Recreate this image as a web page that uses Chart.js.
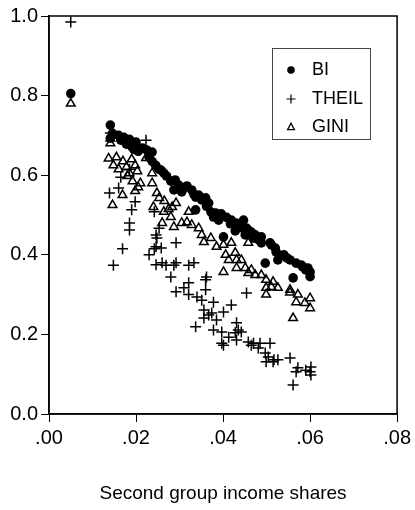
<!DOCTYPE html>
<html>
<head>
<meta charset="utf-8">
<script src="https://cdn.jsdelivr.net/npm/chart.js@4.4.1/dist/chart.umd.min.js"></script>
<style>
  html, body { margin: 0; padding: 0; background: #fff; }
  canvas { display: block; }
</style>
</head>
<body>
<canvas id="myChart" width="415" height="510"></canvas>
<script>
// ── data ──
const seriesLabels = ['BI', 'THEIL', 'GINI'];
const xTicks = [0, 0.02, 0.04, 0.06, 0.08];
const yTicks = [0, 0.2, 0.4, 0.6, 0.8, 1.0];

const biX = [0.005, 0.0141, 0.0141, 0.0146, 0.0160, 0.0165, 0.0172, 0.0178, 0.0185, 0.0190, 0.0195, 0.0200, 0.0205,
  0.0225, 0.0230, 0.0237, 0.0237, 0.0245, 0.0253, 0.0264, 0.0270, 0.0280, 0.0290, 0.0287, 0.0305, 0.0310, 0.0317,
  0.0328, 0.0337, 0.0344, 0.0351, 0.0360, 0.0362, 0.0372, 0.0378, 0.0383, 0.0390, 0.0390, 0.0401, 0.0408, 0.0419,
  0.0417, 0.0428, 0.0430, 0.0435, 0.0447, 0.0451, 0.0454, 0.0458, 0.0465, 0.0470, 0.0474, 0.0488, 0.0488, 0.0497,
  0.0508, 0.0511, 0.0520, 0.0522, 0.0526, 0.0540, 0.0554, 0.0561, 0.0568, 0.0580, 0.0583, 0.0595, 0.0600, 0.0600, 0.0337,
  0.0215, 0.0258, 0.0298, 0.0333, 0.0367, 0.0396, 0.0441, 0.0481, 0.0532, 0.0547, 0.0590];
const biY = [0.805, 0.726, 0.693, 0.705, 0.700, 0.688, 0.695, 0.678, 0.690, 0.672, 0.665, 0.683, 0.660,
  0.663, 0.645, 0.658, 0.635, 0.625, 0.615, 0.605, 0.598, 0.585, 0.588, 0.563, 0.558, 0.568, 0.573,
  0.563, 0.545, 0.550, 0.538, 0.543, 0.522, 0.508, 0.495, 0.505, 0.500, 0.487, 0.445, 0.494, 0.487,
  0.478, 0.460, 0.480, 0.475, 0.487, 0.450, 0.467, 0.462, 0.457, 0.442, 0.450, 0.445, 0.430, 0.379,
  0.430, 0.425, 0.417, 0.407, 0.387, 0.400, 0.387, 0.342, 0.379, 0.374, 0.370, 0.367, 0.357, 0.345, 0.513,
  0.668, 0.612, 0.575, 0.552, 0.530, 0.503, 0.468, 0.438, 0.398, 0.392, 0.362];

const theilX = [0.005, 0.0141, 0.0223, 0.0139, 0.0160, 0.0165, 0.0185, 0.0190, 0.0198, 0.0185, 0.0185, 0.0242,
  0.0253, 0.0246, 0.0248, 0.0246, 0.0169, 0.0148, 0.0292, 0.0230, 0.0242, 0.0258, 0.0246, 0.0260, 0.0269, 0.0287,
  0.0292, 0.0321, 0.0333, 0.0280, 0.0292, 0.0310, 0.0321, 0.0321, 0.0340, 0.0351, 0.0360, 0.0360, 0.0362, 0.0356,
  0.0356, 0.0367, 0.0337, 0.0378, 0.0374, 0.0401, 0.0419, 0.0385, 0.0454, 0.0378, 0.0397, 0.0397, 0.0401, 0.0413,
  0.0428, 0.0431, 0.0431, 0.0435, 0.0442, 0.0458, 0.0465, 0.0470, 0.0481, 0.0485, 0.0508, 0.0497, 0.0504, 0.0499,
  0.0515, 0.0517, 0.0526, 0.0554, 0.0572, 0.0568, 0.0590, 0.0602, 0.0602, 0.0600, 0.0561];
const theilY = [0.985, 0.706, 0.688, 0.555, 0.568, 0.595, 0.615, 0.513, 0.533, 0.480, 0.462, 0.508,
  0.467, 0.450, 0.442, 0.420, 0.415, 0.374, 0.430, 0.400, 0.415, 0.417, 0.375, 0.380, 0.374, 0.374,
  0.380, 0.374, 0.380, 0.344, 0.307, 0.317, 0.330, 0.300, 0.294, 0.286, 0.337, 0.312, 0.344, 0.261,
  0.241, 0.249, 0.219, 0.281, 0.254, 0.256, 0.274, 0.236, 0.304, 0.211, 0.206, 0.178, 0.173, 0.193,
  0.204, 0.229, 0.186, 0.211, 0.206, 0.181, 0.173, 0.178, 0.166, 0.178, 0.178, 0.153, 0.143, 0.131,
  0.131, 0.136, 0.136, 0.141, 0.116, 0.106, 0.110, 0.118, 0.098, 0.106, 0.073];

const giniX = [0.005, 0.0141, 0.0141, 0.0137, 0.0148, 0.0155, 0.0160, 0.0170, 0.0178, 0.0185, 0.0190, 0.0198, 0.0203,
  0.0223, 0.0180, 0.0192, 0.0205, 0.0198, 0.0210, 0.0169, 0.0146, 0.0237, 0.0237, 0.0248, 0.0253, 0.0240, 0.0265,
  0.0264, 0.0275, 0.0283, 0.0292, 0.0280, 0.0260, 0.0287, 0.0305, 0.0321, 0.0317, 0.0328, 0.0344, 0.0351, 0.0356,
  0.0372, 0.0385, 0.0401, 0.0406, 0.0419, 0.0428, 0.0413, 0.0431, 0.0442, 0.0431, 0.0401, 0.0451, 0.0458, 0.0458,
  0.0465, 0.0474, 0.0488, 0.0499, 0.0515, 0.0511, 0.0499, 0.0499, 0.0526, 0.0554, 0.0554, 0.0572, 0.0568, 0.0588,
  0.0600, 0.0600, 0.0561];
const giniY = [0.780, 0.680, 0.692, 0.642, 0.625, 0.645, 0.615, 0.635, 0.620, 0.605, 0.640, 0.625, 0.610,
  0.643, 0.598, 0.585, 0.570, 0.560, 0.580, 0.550, 0.525, 0.605, 0.580, 0.555, 0.543, 0.520, 0.535,
  0.508, 0.515, 0.520, 0.530, 0.495, 0.480, 0.470, 0.480, 0.508, 0.482, 0.475, 0.467, 0.450, 0.432,
  0.442, 0.420, 0.425, 0.400, 0.430, 0.405, 0.387, 0.387, 0.387, 0.367, 0.357, 0.367, 0.430, 0.354,
  0.362, 0.349, 0.349, 0.337, 0.332, 0.319, 0.317, 0.300, 0.317, 0.312, 0.305, 0.300, 0.281, 0.279,
  0.291, 0.266, 0.241];

const pairs = (xs, ys) => xs.map((x, i) => ({ x: x, y: ys[i] }));

const FONT = 'Liberation Sans, Arial, sans-serif';

// frame + legend box drawn inside the plot
const framePlugin = {
    id: 'frame',
    afterDatasetsDraw(chart) {
        const { ctx, chartArea: a } = chart;
        ctx.save();
        ctx.strokeStyle = '#000';
        ctx.lineWidth = 1.5;
        ctx.strokeRect(a.left, a.top, a.right - a.left, a.bottom - a.top);

        // legend
        const bx = 272, by = 48, bw = 98, bh = 91;
        ctx.fillStyle = '#fff';
        ctx.fillRect(bx, by, bw, bh);
        ctx.lineWidth = 1;
        ctx.strokeStyle = '#444';
        ctx.strokeRect(bx + 0.5, by + 0.5, bw, bh);

        const rows = [70, 99, 127];
        const mx = 291;
        ctx.fillStyle = '#000';
        ctx.strokeStyle = '#000';
        // dot
        ctx.beginPath(); ctx.arc(mx, rows[0], 3.8, 0, Math.PI * 2); ctx.fill();
        // cross
        ctx.lineWidth = 1.2;
        ctx.beginPath();
        ctx.moveTo(mx - 4.5, rows[1]); ctx.lineTo(mx + 4.5, rows[1]);
        ctx.moveTo(mx, rows[1] - 4.5); ctx.lineTo(mx, rows[1] + 4.5);
        ctx.stroke();
        // triangle
        ctx.lineWidth = 1.3;
        ctx.beginPath();
        ctx.moveTo(mx, rows[2] - 3.8); ctx.lineTo(mx + 3.4, rows[2] + 2.7); ctx.lineTo(mx - 3.4, rows[2] + 2.7);
        ctx.closePath(); ctx.stroke();

        ctx.font = '18px ' + FONT;
        ctx.textBaseline = 'middle';
        ctx.textAlign = 'left';
        seriesLabels.forEach((t, i) => ctx.fillText(t, 312, rows[i]));
        ctx.restore();
    }
};

const ctx = document.getElementById('myChart').getContext('2d');
const chart = new Chart(ctx, {
    type: 'scatter',
    data: {
        datasets: [
            { label: 'BI', data: pairs(biX, biY), pointStyle: 'circle', pointRadius: 4.8, pointBorderWidth: 0,
              backgroundColor: '#000', borderColor: '#000' },
            { label: 'THEIL', data: pairs(theilX, theilY), pointStyle: 'cross', pointRadius: 5.5, pointBorderWidth: 1.5,
              borderColor: '#000', backgroundColor: '#000' },
            { label: 'GINI', data: pairs(giniX, giniY), pointStyle: 'triangle', pointRadius: 5, pointBorderWidth: 1.5,
              borderColor: '#000', backgroundColor: 'rgba(0,0,0,0)' }
        ]
    },
    options: {
        responsive: false,
        animation: false,
        devicePixelRatio: 1,
        layout: { padding: { top: 16, right: 15, left: 0, bottom: 0 } },
        plugins: { legend: { display: false }, tooltip: { enabled: false } },
        scales: {
            x: {
                type: 'linear', min: 0, max: 0.08,
                afterBuildTicks: s => { s.ticks = xTicks.map(v => ({ value: v })); },
                afterFit: s => { s.height = 96; },
                ticks: { color: '#000', font: { family: FONT, size: 20 }, padding: 4,
                         callback: v => v.toFixed(2).replace(/^0/, '') },
                grid: { display: true, drawOnChartArea: false, drawTicks: true, tickLength: 8, color: '#000', lineWidth: 1 },
                border: { display: true, color: '#000', width: 1.5 },
                title: { display: true, text: 'Second group income shares', color: '#000',
                         font: { family: FONT, size: 19 }, padding: { top: 0, bottom: 5 } }
            },
            y: {
                type: 'linear', min: 0, max: 1.0,
                afterBuildTicks: s => { s.ticks = yTicks.map(v => ({ value: v })); },
                afterFit: s => { s.width = 49; },
                ticks: { color: '#000', font: { family: FONT, size: 20 }, padding: 3,
                         callback: v => v.toFixed(1) },
                grid: { display: true, drawOnChartArea: false, drawTicks: true, tickLength: 8, color: '#000', lineWidth: 1 },
                border: { display: true, color: '#000', width: 1.5 }
            }
        }
    },
    plugins: [framePlugin]
});
</script>
</body>
</html>
